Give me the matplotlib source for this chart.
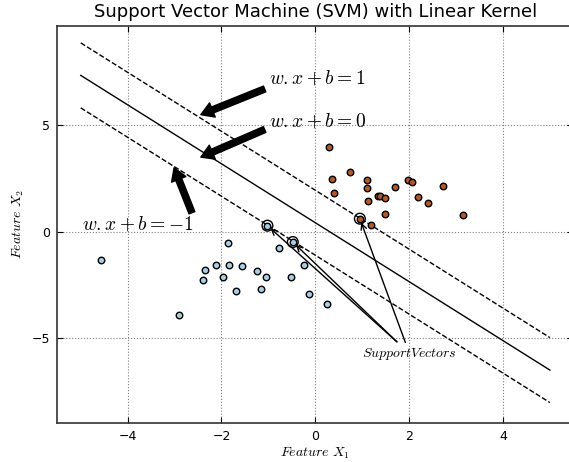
import matplotlib
matplotlib.use('Agg')
import matplotlib.pyplot as plt
import numpy as np

plt.rcParams['mathtext.fontset'] = 'cm'

# class 0 (blue) and class 1 (brown) points
blue_x = [-4.57, -2.91, -1.87, -0.77, -2.35, -2.12, -1.85, -1.56, -1.24, -1.06,
          -2.40, -1.96, -1.70, -1.15, -0.51, -0.24, -0.14, 0.26, -1.02, -0.48]
blue_y = [-1.32, -3.94, -0.52, -0.77, -1.80, -1.55, -1.58, -1.63, -1.85, -2.13,
          -2.26, -2.15, -2.81, -2.70, -2.16, -1.55, -2.93, -3.42, 0.28, -0.49]
brown_x = [0.29, 0.74, 0.36, 1.11, 1.10, 0.39, 1.69, 1.97, 2.07, 1.34,
           1.38, 1.49, 1.13, 2.18, 2.73, 2.40, 1.49, 3.14, 0.95, 1.18]
brown_y = [3.98, 2.80, 2.47, 2.43, 2.07, 1.83, 2.08, 2.44, 2.33, 1.67,
           1.66, 1.58, 1.46, 1.63, 2.16, 1.34, 0.85, 0.80, 0.61, 0.31]

# support vectors
sv_x = [-1.02, -0.48, 0.95]
sv_y = [0.28, -0.49, 0.61]

# hyperplane w.x + b = 0
w = [0.9072, 0.6536]
b = -0.2745
xx = np.array([-5, 5])

yy = (-w[0] * xx - b) / w[1]
yy_up = (1 - w[0] * xx - b) / w[1]
yy_down = (-1 - w[0] * xx - b) / w[1]

fig = plt.figure(figsize=(5.69, 4.62), dpi=100)
ax = fig.add_axes([57.3 / 569, 39.3 / 462, 516 / 569, 397 / 462])

ax.plot(xx, yy, 'k-', lw=1)
ax.plot(xx, yy_up, 'k--', lw=1)
ax.plot(xx, yy_down, 'k--', lw=1)

cmap = plt.cm.Paired
ax.scatter(blue_x, blue_y, s=22, c=[cmap(0)], edgecolors='k', linewidths=1, zorder=3)
ax.scatter(brown_x, brown_y, s=22, c=[cmap(cmap.N - 1)], edgecolors='k', linewidths=1, zorder=3)
ax.scatter(sv_x, sv_y, s=60, facecolors='none', edgecolors='k', linewidths=1, zorder=4)

# thick arrows to the lines
big = dict(facecolor='black', edgecolor='black', width=4.5, headwidth=11, headlength=9, shrink=0)
ax.annotate('', xy=(-2.44, 5.51), xytext=(-1.08, 6.72), arrowprops=big)
ax.annotate('', xy=(-2.44, 3.51), xytext=(-1.08, 4.81), arrowprops=big)
ax.annotate('', xy=(-3.01, 3.01), xytext=(-2.63, 0.89), arrowprops=big)
ax.text(-0.98, 7.24, r'$w.x + b = 1$', fontsize=14, va='center', ha='left')
ax.text(-0.98, 5.23, r'$w.x + b = 0$', fontsize=14, va='center', ha='left')
ax.text(-4.98, 0.34, r'$w.x + b = -1$', fontsize=14, va='center', ha='left')

# thin arrows to the support vectors
tails = [(1.74, -5.19), (1.74, -5.19), (1.92, -5.22)]
for (tx, ty), sx, sy in zip(tails, sv_x, sv_y):
    ax.annotate('', xy=(sx, sy), xytext=(tx, ty),
                arrowprops=dict(arrowstyle='->', color='k', lw=1, shrinkA=0, shrinkB=3))
ax.text(2.0, -5.77, r'$Support Vectors$', fontsize=10, ha='center', va='center')

ax.set_xlim(-5.5, 5.5)
ax.set_ylim(-9, 9.7)
ax.set_xticks([-4, -2, 0, 2, 4])
ax.set_yticks([-5, 0, 5])
ax.grid(True, color='gray', linestyle=':', linewidth=0.8)
ax.tick_params(direction='in', length=4, labelsize=9, top=True, right=True, pad=5)
ax.set_xticklabels(['\u22124', '\u22122', '0', '2', '4'])
ax.set_yticklabels(['\u22125', '0', '5'])
for s in ax.spines.values():
    s.set_linewidth(1.2)
    s.set_color('#333333')

ax.set_xlabel(r'$Feature\ X_1$', fontsize=10, labelpad=2)
ax.set_ylabel(r'$Feature\ X_2$', fontsize=10)
ax.set_title('Support Vector Machine (SVM) with Linear Kernel', fontsize=13, pad=6)

fig.savefig('out.png', dpi=100)
